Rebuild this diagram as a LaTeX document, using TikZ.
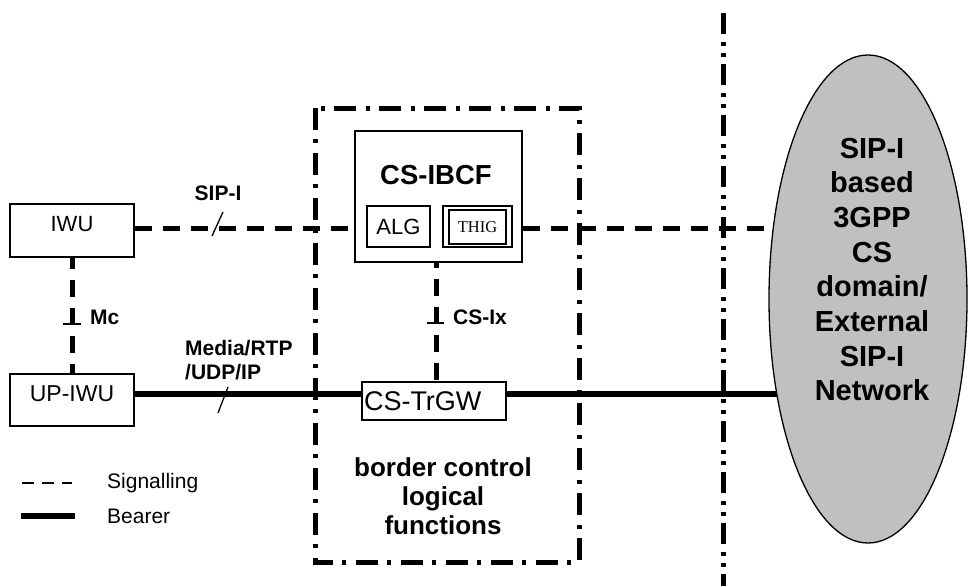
\documentclass[tikz,border=0pt]{standalone}
\usepackage{fontspec}
\setmainfont{Liberation Sans}
\newfontfamily\thigfont{Liberation Serif}
\usetikzlibrary{shapes.geometric,backgrounds}
\definecolor{netgray}{RGB}{192,192,192}
\begin{document}
\begin{tikzpicture}[x=1pt,y=-1pt,
  box/.style={draw,line width=1.3pt,fill=white,inner sep=0pt,font=\fontsize{22}{26}\selectfont},
  sig/.style={line width=5pt,dash pattern=on 17pt off 11pt},
  bear/.style={line width=5.5pt},
  dashdot/.style={line width=5pt,dash pattern=on 22pt off 9pt on 4pt off 10pt},
  dashdotdot/.style={line width=5pt,dash pattern=on 21pt off 8pt on 4pt off 7pt on 4pt off 7pt},
  thinline/.style={line width=1.3pt},
  lbl/.style={font=\bfseries\fontsize{21}{24}\selectfont,inner sep=0pt},
  legtxt/.style={font=\fontsize{21}{25}\selectfont,inner sep=0pt,anchor=west},
]
\useasboundingbox (0,0) rectangle (968,586);

% guide coordinates
\coordinate (sigY) at (0,228);
\coordinate (bearY) at (0,394);

% nodes
\node[box,minimum width=124pt,text height=27pt,text depth=26pt] (iwu) at (72,230.5) {IWU};
\node[box,minimum width=124pt,text height=27pt,text depth=25pt,font=\fontsize{23}{26}\selectfont] (upiwu) at (72,400) {UP-IWU};

\node[draw,line width=2.8pt,fill=white,minimum width=167pt,minimum height=131pt,inner sep=0pt] (ibcf) at (438.5,196.5) {};
\node[font=\bfseries\fontsize{27.5}{30}\selectfont,inner sep=0pt] (ibcftext) at (436,175) {CS-IBCF};
\node[box,minimum width=63pt,minimum height=41pt] (alg) at (398.5,226.5) {ALG};
\node[box,minimum width=69pt,minimum height=41pt] (thig) at (477.5,226.5) {};
\node[box,minimum width=57pt,minimum height=34pt,font=\thigfont\fontsize{16.5}{18}\selectfont] (thigin) at (477.5,227) {THIG};

\node[box,minimum height=38pt,text width=140pt,align=left,inner xsep=2pt,font=\fontsize{27}{30}\selectfont] (trgw) at (434,401) {CS-TrGW};

\node[font=\bfseries\fontsize{26}{29}\selectfont,align=center,inner sep=0pt] (bctext) at (443,496) {border control\\logical\\functions};

\node[ellipse,draw,line width=1.3pt,fill=netgray,minimum width=198pt,minimum height=488pt,inner sep=0pt] (net) at (868,299) {};
\node[font=\bfseries\fontsize{29}{34.7}\selectfont,align=center,inner sep=0pt] (nettext) at (872,269.5) {SIP-I\\based\\3GPP\\CS\\domain/\\External\\SIP-I\\Network};

% labels
\node[lbl] (siplbl) at (218,193) {SIP-I};
\node[lbl,anchor=west] (mclbl) at (90,317) {Mc};
\node[lbl,anchor=west] (csixlbl) at (453,317) {CS-Ix};
\node[lbl,anchor=west,align=left] (medialbl) at (185,360) {Media/RTP\\/UDP/IP};

% legend
\coordinate (lgs1) at (22,483);
\coordinate (lgs2) at (72,483);
\coordinate (lgb1) at (21,516);
\coordinate (lgb2) at (75,516);
\node[legtxt] (sigtxt) at (107,483) {Signalling};
\node[legtxt] (beartxt) at (107,516) {Bearer};

\begin{scope}[on background layer]
  % border box and divider
  \draw[dashdot] (315,108) rectangle (579,562);
  \draw[dashdotdot] (723,13) -- (723,586);
  % signalling
  \draw[sig] (iwu.east |- sigY) -- (ibcf.west |- sigY);
  \draw[sig] (ibcf.east |- sigY) -- (net.center |- sigY);
  \draw[sig,dash phase=6pt] (iwu.south) -- (upiwu.north);
  \draw[sig,dash phase=12pt] (ibcftext |- ibcf.south) -- (ibcftext |- trgw.north);
  % bearer
  \draw[bear] (upiwu.east |- bearY) -- (trgw.west |- bearY);
  \draw[bear] (trgw.east |- bearY) -- (net.center |- bearY);
\end{scope}

% ticks
\draw[thinline] (212,236) -- (223,212);
\draw[thinline] (218,413) -- (228,387);
\draw[thinline] (63,324) -- (81,324);
\draw[thinline] (427,323) -- (444,323);

% legend lines
\draw[line width=1.3pt,dash pattern=on 12pt off 8pt] (lgs1) -- (lgs2);
\draw[line width=6pt] (lgb1) -- (lgb2);
\end{tikzpicture}
\end{document}
